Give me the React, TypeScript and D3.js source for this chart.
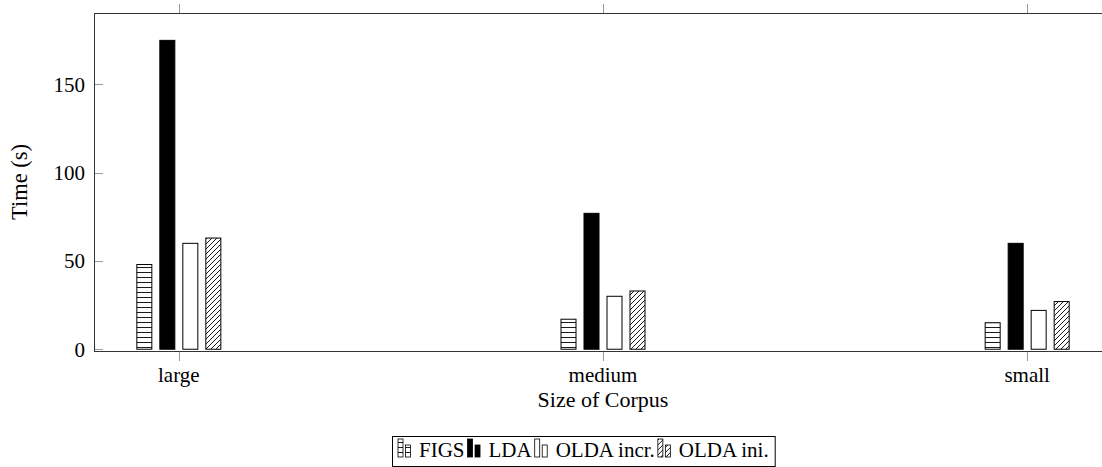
import React, { useEffect, useRef } from "react";
import * as d3 from "d3";

const categories = ["large", "medium", "small"];
const seriesNames = ["FIGS", "LDA", "OLDA incr.", "OLDA ini."];
const figsValues = [48, 17, 15];
const ldaValues = [175, 77, 60];
const oldaIncrValues = [60, 30, 22];
const oldaIniValues = [63, 33, 27];
const yTickValues = [0, 50, 100, 150];

const W = 1102;
const H = 467;
const FONT = "'Liberation Serif', 'DejaVu Serif', serif";

export default function App() {
  const ref = useRef<SVGSVGElement>(null);

  useEffect(() => {
    const svg = d3.select(ref.current);
    svg.selectAll("*").remove();

    const series = [
      { name: seriesNames[0], values: figsValues, fill: "url(#hlines)" },
      { name: seriesNames[1], values: ldaValues, fill: "#000" },
      { name: seriesNames[2], values: oldaIncrValues, fill: "#fff" },
      { name: seriesNames[3], values: oldaIniValues, fill: "url(#nelines)" },
    ];

    const defs = svg.append("defs");
    const ph = defs
      .append("pattern")
      .attr("id", "hlines")
      .attr("patternUnits", "userSpaceOnUse")
      .attr("width", 10)
      .attr("height", 5);
    ph.append("rect").attr("width", 10).attr("height", 5).attr("fill", "#fff");
    ph.append("line")
      .attr("x1", 0).attr("x2", 10).attr("y1", 2.5).attr("y2", 2.5)
      .attr("stroke", "#000").attr("stroke-width", 0.9);

    const pn = defs
      .append("pattern")
      .attr("id", "nelines")
      .attr("patternUnits", "userSpaceOnUse")
      .attr("width", 5)
      .attr("height", 5);
    pn.append("rect").attr("width", 5).attr("height", 5).attr("fill", "#fff");
    pn.append("path")
      .attr("d", "M-1,1 L1,-1 M0,5 L5,0 M4,6 L6,4")
      .attr("stroke", "#000").attr("stroke-width", 0.9);

    const left = 94, right = 1112, top = 13, bottom = 351;
    const x = d3.scaleLinear().domain([-0.2, categories.length - 1 + 0.2]).range([left, right]);
    const y = d3.scaleLinear().domain([-1, 190.5]).range([bottom, top]);
    const inner = d3
      .scaleBand<string>()
      .domain(seriesNames)
      .range([-46, 46])
      .paddingInner(8 / 23)
      .paddingOuter(4 / 23);

    // bars
    series.forEach((s) => {
      svg
        .append("g")
        .selectAll("rect")
        .data(s.values)
        .join("rect")
        .attr("x", (_d, i) => x(i) + (inner(s.name) as number))
        .attr("width", inner.bandwidth())
        .attr("y", (d) => y(d))
        .attr("height", (d) => y(0) - y(d))
        .attr("fill", s.fill)
        .attr("stroke", "#000")
        .attr("stroke-width", 1);
    });

    // axis box
    const axisColor = "#333";
    const hl = (x1: number, x2: number, yy: number) =>
      svg.append("line").attr("x1", x1).attr("x2", x2).attr("y1", yy).attr("y2", yy)
        .attr("stroke", axisColor).attr("stroke-width", 1);
    hl(left, right, top + 0.5);
    hl(left, right, bottom + 0.5);
    svg.append("line").attr("x1", left + 0.5).attr("x2", left + 0.5).attr("y1", top).attr("y2", bottom)
      .attr("stroke", axisColor).attr("stroke-width", 1);

    const txt = (sel: d3.Selection<any, any, any, any>, size = 21) =>
      sel.style("font-family", FONT).style("font-size", `${size}px`).attr("fill", "#000");

    // x ticks (outside top and bottom)
    const tickColor = "#999";
    categories.forEach((c, i) => {
      const xp = Math.round(x(i)) + 0.5;
      svg.append("line").attr("x1", xp).attr("x2", xp).attr("y1", top - 9).attr("y2", top)
        .attr("stroke", tickColor).attr("stroke-width", 1);
      svg.append("line").attr("x1", xp).attr("x2", xp).attr("y1", bottom + 1).attr("y2", bottom + 10)
        .attr("stroke", tickColor).attr("stroke-width", 1);
      txt(svg.append("text")
        .attr("x", x(i)).attr("y", 382)
        .attr("text-anchor", "middle"), 21)
        .text(c);
    });

    // y ticks (inside)
    yTickValues.forEach((v) => {
      const yp = Math.round(y(v)) + 0.5;
      svg.append("line").attr("x1", left + 1).attr("x2", left + 9).attr("y1", yp).attr("y2", yp)
        .attr("stroke", tickColor).attr("stroke-width", 1);
      txt(svg.append("text")
        .attr("x", left - 9).attr("y", y(v))
        .attr("dy", "0.35em")
        .attr("text-anchor", "end"))
        .text(String(v));
    });

    // axis labels
    txt(svg.append("text")
      .attr("x", x(1)).attr("y", 406.5)
      .attr("text-anchor", "middle"), 22)
      .text("Size of Corpus");
    txt(svg.append("text")
      .attr("transform", `translate(27,${(top + bottom) / 2}) rotate(-90)`)
      .attr("text-anchor", "middle"), 22.5)
      .text("Time (s)");

    // legend, laid out from measured text widths
    const lg = svg.append("g");
    const box = lg.append("rect");
    const entries = lg.append("g");
    let cursor = 0;
    series.forEach((s, i) => {
      const e = entries.append("g").attr("transform", `translate(${cursor},0)`);
      e.append("rect").attr("x", 0).attr("y", 439).attr("width", 5).attr("height", 18)
        .attr("fill", s.fill).attr("stroke", "#000").attr("stroke-width", 0.8);
      e.append("rect").attr("x", 7.5).attr("y", 445).attr("width", 5).attr("height", 12)
        .attr("fill", s.fill).attr("stroke", "#000").attr("stroke-width", 0.8);
      const t = txt(e.append("text").attr("x", 21).attr("y", 456.5)).text(s.name);
      const tw = (t.node() as SVGTextElement).getComputedTextLength();
      cursor += 21 + tw + (i < series.length - 1 ? 3 : 0);
    });
    const totalW = cursor + 12;
    const boxX = Math.round(583.5 - totalW / 2);
    entries.attr("transform", `translate(${boxX + 6},0)`);
    box.attr("x", boxX + 0.5).attr("y", 436.5).attr("width", totalW).attr("height", 30)
      .attr("fill", "#fff").attr("stroke", "#000").attr("stroke-width", 1);
  }, []);

  return (
    <svg
      ref={ref}
      width={W}
      height={H}
      style={{ position: "absolute", left: 0, top: 0, background: "#fff" }}
    />
  );
}
